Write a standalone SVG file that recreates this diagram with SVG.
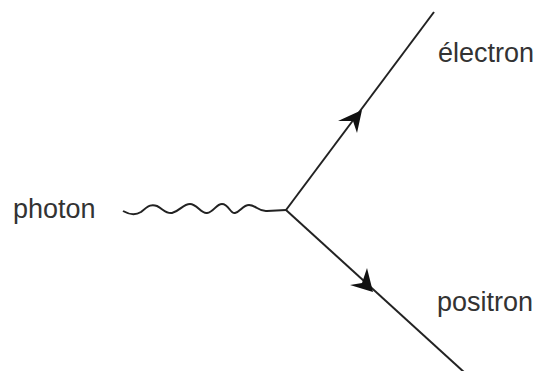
<svg xmlns="http://www.w3.org/2000/svg" width="537" height="371" viewBox="0 0 537 371">
<style>
.lbl{font-family:"Liberation Sans",Arial,sans-serif;font-size:27px;fill:#333}
.ln{stroke:#222;stroke-width:2;fill:none}
.ah{fill:#111}
</style>
<rect width="537" height="371" fill="#fff"/>
<g id="connectors">
<path class="ln" d="M123,211 C130,215 136,215 141,212 C149,205 152,204 157,206 C163,209 166,214 172,213 C180,211 183,204 190,204 C197,204 201,214 207,213 C214,212 216,204 222,204 C229,204 230,214 235,213 C240,212 243,205 249,205 C256,205 259,212 267,211 L286,210"/>
<line class="ln" x1="286" y1="210" x2="434" y2="12"/>
<line class="ln" x1="286" y1="210" x2="465" y2="373"/>
<path class="ah" d="M362,110 L357,133 L353,121 L338,121 Z"/>
<path class="ah" d="M373,292 L350,285 L362,283 L367,268 Z"/>
</g>
<g id="photon"><text class="lbl" x="13" y="218">photon</text></g>
<g id="electron"><text class="lbl" x="438" y="62">électron</text></g>
<g id="positron"><text class="lbl" x="437" y="311">positron</text></g>
</svg>
